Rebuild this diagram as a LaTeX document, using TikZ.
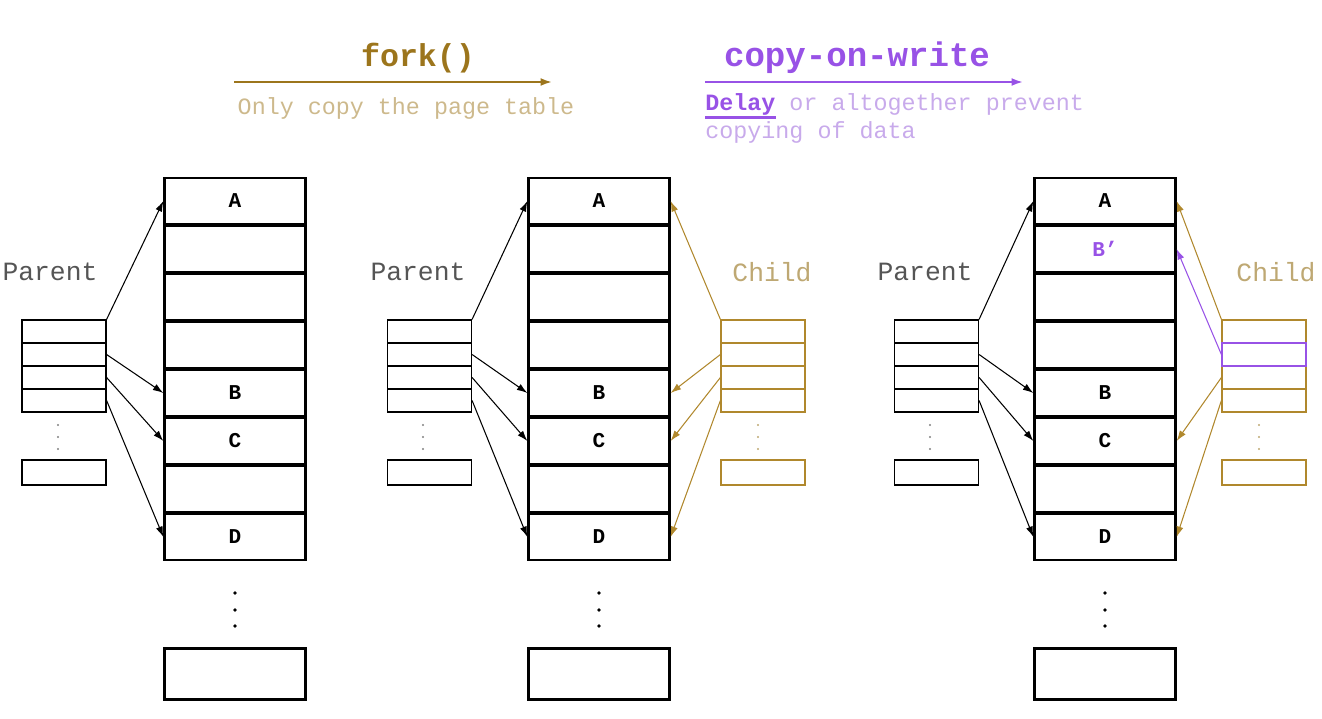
\documentclass[tikz,border=0pt]{standalone}
\usepackage{fontspec}
\setmainfont{Liberation Mono}
\usetikzlibrary{arrows.meta}

\definecolor{brun}{RGB}{156,117,28}
\definecolor{brunclair}{RGB}{205,185,140}
\definecolor{filstexte}{RGB}{190,168,115}
\definecolor{filstrait}{RGB}{176,136,45}
\definecolor{cowviolet}{RGB}{152,82,230}
\definecolor{violetclair}{RGB}{200,170,235}
\definecolor{peretexte}{RGB}{85,85,85}

\begin{document}
\begin{tikzpicture}[x=0.02cm,y=-0.02cm,
  case/.style={draw,line width=1.3pt,minimum width=2.82cm,minimum height=0.92cm,inner sep=0pt,font=\fontsize{12}{12}\selectfont\bfseries},
  casefin/.style={case,minimum height=1.02cm},
  ligne/.style={draw,line width=0.7pt,minimum width=1.68cm,minimum height=0.46cm,inner sep=0pt},
  lignefin/.style={ligne,minimum height=0.5cm},
  etiquette/.style={font=\fontsize{15}{15}\selectfont,text=peretexte,inner sep=0pt},
  sous/.style={font=\fontsize{13.3}{13.3}\selectfont,inner sep=0pt},
  fleche/.style={line width=0.6pt,-{Latex[length=6pt,width=4pt]}},
  grandefleche/.style={line width=1.1pt,-{Latex[length=6.5pt,width=4.5pt]}}]
\useasboundingbox (0,0) rectangle (1322,718);

%titres du haut
\node[font=\fontsize{18}{18}\selectfont\bfseries,text=brun,inner sep=0pt] (fork) at (418,58) {fork()};
\coordinate (forkdeb) at (234,82);
\coordinate (forkfin) at (552,82);
\draw[grandefleche,brun] (forkdeb) -- (forkfin);
\node[sous,text=brunclair] (forktexte) at (406,108) {Only copy the page table};

\node[font=\fontsize{19.4}{19.4}\selectfont\bfseries,text=cowviolet,inner sep=0pt] (cow) at (857,58) {copy-on-write};
\coordinate (cowdeb) at (705,82);
\coordinate (cowfin) at (1023,82);
\draw[grandefleche,cowviolet] (cowdeb) -- (cowfin);
\node[sous,text=violetclair,anchor=base west] (cowtexte1) at (705,110) {{\color{cowviolet}\textbf{Delay}} or altogether prevent};
\draw[cowviolet,line width=1.2pt] (705,117.5) -- (776,117.5);
\node[sous,text=violetclair,anchor=base west] (cowtexte2) at (705,138) {copying of data};

%memoire 1
\node[case] (m1l1) at (235,201) {A};
\node[case] (m1l2) at (235,249) {};
\node[case] (m1l3) at (235,297) {};
\node[case] (m1l4) at (235,345) {};
\node[case] (m1l5) at (235,393) {B};
\node[case] (m1l6) at (235,441) {C};
\node[case] (m1l7) at (235,489) {};
\node[case] (m1l8) at (235,537) {D};
\fill (235,593) circle (1.1pt);
\fill (235,610) circle (1.1pt);
\fill (235,626) circle (1.1pt);
\node[casefin] (m1fin) at (235,674) {};

%memoire 2
\node[case] (m2l1) at (599,201) {A};
\node[case] (m2l2) at (599,249) {};
\node[case] (m2l3) at (599,297) {};
\node[case] (m2l4) at (599,345) {};
\node[case] (m2l5) at (599,393) {B};
\node[case] (m2l6) at (599,441) {C};
\node[case] (m2l7) at (599,489) {};
\node[case] (m2l8) at (599,537) {D};
\fill (599,593) circle (1.1pt);
\fill (599,610) circle (1.1pt);
\fill (599,626) circle (1.1pt);
\node[casefin] (m2fin) at (599,674) {};

%memoire 3
\node[case] (m3l1) at (1105,201) {A};
\node[case,text=cowviolet] (m3l2) at (1105,249) {B’};
\node[case] (m3l3) at (1105,297) {};
\node[case] (m3l4) at (1105,345) {};
\node[case] (m3l5) at (1105,393) {B};
\node[case] (m3l6) at (1105,441) {C};
\node[case] (m3l7) at (1105,489) {};
\node[case] (m3l8) at (1105,537) {D};
\fill (1105,593) circle (1.1pt);
\fill (1105,610) circle (1.1pt);
\fill (1105,626) circle (1.1pt);
\node[casefin] (m3fin) at (1105,674) {};

%tables du pere
\node[etiquette] (pere1) at (50,272) {Parent};
\node[ligne] (pere1l1) at (64,331.5) {};
\node[ligne] (pere1l2) at (64,354.5) {};
\node[ligne] (pere1l3) at (64,377.5) {};
\node[ligne] (pere1l4) at (64,400.5) {};
\fill[gray] (58,425) circle (0.6pt);
\fill[gray] (58,437) circle (0.6pt);
\fill[gray] (58,449) circle (0.6pt);
\node[lignefin] (pere1fin) at (64,472.5) {};

\node[etiquette] (pere2) at (418,272) {Parent};
\node[ligne] (pere2l1) at (429.5,331.5) {};
\node[ligne] (pere2l2) at (429.5,354.5) {};
\node[ligne] (pere2l3) at (429.5,377.5) {};
\node[ligne] (pere2l4) at (429.5,400.5) {};
\fill[gray] (423,425) circle (0.6pt);
\fill[gray] (423,437) circle (0.6pt);
\fill[gray] (423,449) circle (0.6pt);
\node[lignefin] (pere2fin) at (429.5,472.5) {};

\node[etiquette] (pere3) at (925,272) {Parent};
\node[ligne] (pere3l1) at (936.5,331.5) {};
\node[ligne] (pere3l2) at (936.5,354.5) {};
\node[ligne] (pere3l3) at (936.5,377.5) {};
\node[ligne] (pere3l4) at (936.5,400.5) {};
\fill[gray] (930,425) circle (0.6pt);
\fill[gray] (930,437) circle (0.6pt);
\fill[gray] (930,449) circle (0.6pt);
\node[lignefin] (pere3fin) at (936.5,472.5) {};

%tables du fils
\node[etiquette,text=filstexte] (fils2) at (772,272) {Child};
\node[ligne,draw=filstrait] (fils2l1) at (763,331.5) {};
\node[ligne,draw=filstrait] (fils2l2) at (763,354.5) {};
\node[ligne,draw=filstrait] (fils2l3) at (763,377.5) {};
\node[ligne,draw=filstrait] (fils2l4) at (763,400.5) {};
\fill[filstexte] (758,425) circle (0.6pt);
\fill[filstexte] (758,437) circle (0.6pt);
\fill[filstexte] (758,449) circle (0.6pt);
\node[lignefin,draw=filstrait] (fils2fin) at (763,472.5) {};

\node[etiquette,text=filstexte] (fils3) at (1276,272) {Child};
\node[ligne,draw=filstrait] (fils3l1) at (1264,331.5) {};
\node[ligne,draw=filstrait] (fils3l3) at (1264,377.5) {};
\node[ligne,draw=filstrait] (fils3l4) at (1264,400.5) {};
\node[ligne,draw=cowviolet] (fils3l2) at (1264,354.5) {};
\fill[filstexte] (1259,425) circle (0.6pt);
\fill[filstexte] (1259,437) circle (0.6pt);
\fill[filstexte] (1259,449) circle (0.6pt);
\node[lignefin,draw=filstrait] (fils3fin) at (1264,472.5) {};

%fleches du pere
\draw[fleche] (pere1l1.north east) -- (m1l1.west);
\draw[fleche] (pere1l2.east) -- (m1l5.west);
\draw[fleche] (pere1l3.east) -- (m1l6.west);
\draw[fleche] (pere1l4.east) -- (m1l8.west);

\draw[fleche] (pere2l1.north east) -- (m2l1.west);
\draw[fleche] (pere2l2.east) -- (m2l5.west);
\draw[fleche] (pere2l3.east) -- (m2l6.west);
\draw[fleche] (pere2l4.east) -- (m2l8.west);

\draw[fleche] (pere3l1.north east) -- (m3l1.west);
\draw[fleche] (pere3l2.east) -- (m3l5.west);
\draw[fleche] (pere3l3.east) -- (m3l6.west);
\draw[fleche] (pere3l4.east) -- (m3l8.west);

%fleches du fils
\draw[fleche,filstrait] (fils2l1.north west) -- (m2l1.east);
\draw[fleche,filstrait] (fils2l2.west) -- (m2l5.east);
\draw[fleche,filstrait] (fils2l3.west) -- (m2l6.east);
\draw[fleche,filstrait] (fils2l4.west) -- (m2l8.east);

\draw[fleche,filstrait] (fils3l1.north west) -- (m3l1.east);
\draw[fleche,cowviolet] (fils3l2.west) -- (m3l2.east);
\draw[fleche,filstrait] (fils3l3.west) -- (m3l6.east);
\draw[fleche,filstrait] (fils3l4.west) -- (m3l8.east);

\end{tikzpicture}
\end{document}
